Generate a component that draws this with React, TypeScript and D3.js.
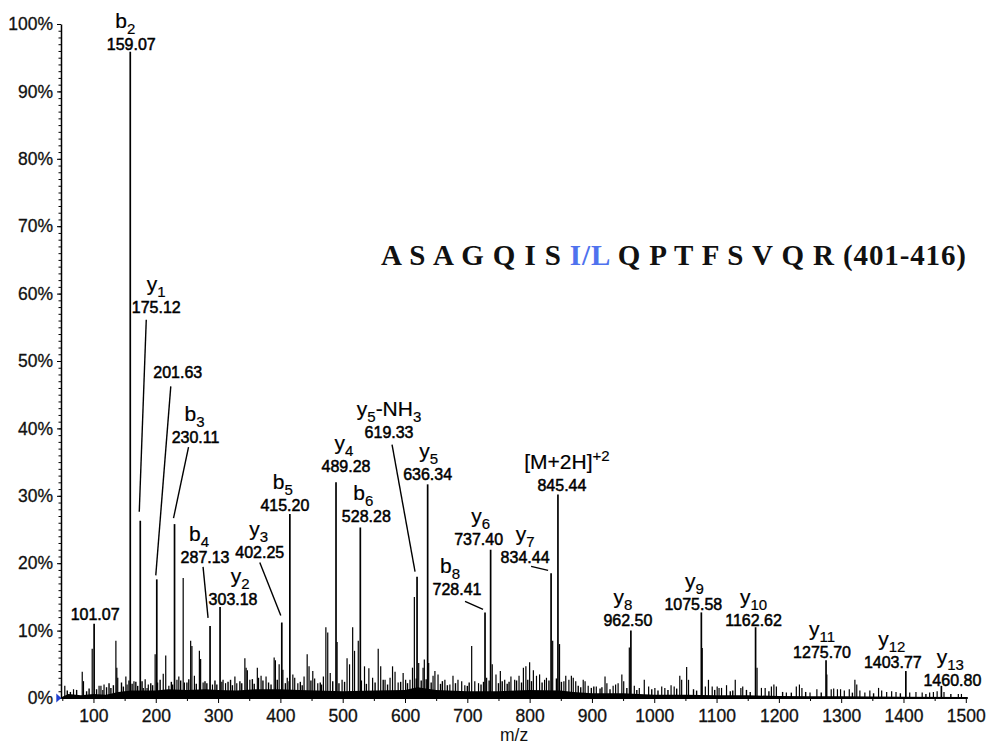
import React, { useEffect, useRef } from "react";
import * as d3 from "d3";

// annotated fragment ions
const ionMz = [101.07, 159.07, 175.12, 201.63, 230.11, 287.13, 303.18, 402.25, 415.2, 489.28, 528.28, 619.33, 636.34, 728.41, 737.4, 834.44, 845.44, 962.5, 1075.58, 1162.62, 1275.7, 1403.77, 1460.8];
const ionIntensity = [11, 95.9, 26.3, 17.6, 25.8, 10.7, 13.5, 11.2, 27.3, 32, 25.3, 18, 31.7, 12.7, 22, 18.5, 30.2, 10, 12.7, 10.5, 5.6, 4, 1.8];
const ionNames = ["", "b_2", "y_1", "", "b_3", "b_4", "y_2", "y_3", "b_5", "y_4", "b_6", "y_5-NH_3", "y_5", "b_8", "y_6", "y_7", "[M+2H]^+2", "y_8", "y_9", "y_10", "y_11", "y_12", "y_13"];
const ionValues = ["101.07", "159.07", "175.12", "201.63", "230.11", "287.13", "303.18", "402.25", "415.20", "489.28", "528.28", "619.33", "636.34", "728.41", "737.40", "834.44", "845.44", "962.50", "1075.58", "1162.62", "1275.70", "1403.77", "1460.80"];

// other peaks in the spectrum
const minorMz = [54, 68, 82, 84, 98, 109, 112, 115, 117, 136, 137.5, 139, 152, 154, 165, 180, 183, 186, 188, 199, 203, 212, 216, 221, 234, 237, 244, 246, 256, 258, 262, 270, 272, 276, 291, 306, 308, 312, 327, 330, 343, 345, 347, 351, 363, 365, 369, 377, 390, 392, 398, 404, 411, 420, 423, 428, 438, 443, 446, 452, 455, 460, 469, 473, 476, 480, 491, 499, 507, 511, 516, 519, 525, 535, 542, 548, 557, 561, 568, 576, 580, 584, 589, 597, 601, 608, 612, 615, 622, 629, 631, 638, 645, 648, 653, 664, 672, 677, 685, 691, 696, 707, 712, 718, 731, 740, 746, 753, 760, 770, 776, 783, 790, 794, 800, 806, 811, 816, 824, 827, 837, 848, 855, 858, 863, 867, 870, 874, 886, 889, 894, 907, 921, 924, 934, 938, 942, 948, 951, 960, 968, 976, 984, 991, 1001, 1012, 1017, 1027, 1032, 1041, 1044, 1052, 1055, 1077, 1082, 1087, 1093, 1101, 1104, 1108, 1116, 1130, 1139, 1142, 1165, 1172, 1178, 1188, 1192, 1196, 1212, 1228, 1233, 1237, 1250, 1261, 1277, 1284, 1288, 1294, 1299, 1305, 1313, 1322, 1325, 1330, 1338, 1346, 1360, 1365, 1373, 1381, 1388, 1410, 1420, 1430, 1442, 1448, 1454, 1465, 1488, 1493];
const minorIntensity = [1.8, 1.3, 3.9, 2.5, 7.3, 1.8, 1.8, 1.2, 2, 8.5, 4.5, 3, 3.2, 2, 2.5, 1.5, 2.8, 1.5, 2, 6.5, 2.3, 3.6, 6.3, 1.8, 2.7, 3.2, 17.8, 2.3, 8.5, 7.7, 3.3, 7, 5.8, 2.3, 2, 2.4, 2.7, 2.2, 3.2, 2.2, 5.9, 4.5, 4.1, 2.7, 4.5, 3, 3.3, 3.2, 6, 5.6, 5, 4.2, 3, 3.5, 3, 2.2, 3.2, 6.5, 4.7, 4, 2.9, 2.2, 3.2, 10.5, 9.7, 3.7, 8.3, 2.7, 5.9, 5, 10.5, 7, 8.5, 4.7, 4.4, 3, 7.3, 4.7, 2.7, 3, 4.7, 3.9, 2.3, 3.7, 2.7, 2.7, 4.5, 15, 5.2, 4.5, 5.7, 5.2, 3.3, 4, 3.5, 2.7, 2, 3.3, 2.7, 2.5, 1.9, 7.7, 2.5, 2.2, 3, 5, 3.5, 4, 2.7, 3.2, 2.7, 3.3, 4.5, 4.7, 5.3, 4.1, 3.3, 3.5, 2.7, 3, 8.5, 8, 2.5, 3.3, 2.7, 3.3, 3, 2.5, 2.7, 2.5, 1.8, 1.7, 3.2, 2.2, 1.8, 2, 2.2, 3.5, 2.5, 7.5, 1.8, 1.5, 2.7, 1.7, 1.5, 1.7, 1.5, 1.9, 1.7, 3.3, 2.7, 4.6, 2.7, 7.4, 1.7, 2.7, 1.7, 1.7, 1.5, 1.5, 1.9, 2.7, 1.5, 1.7, 4.5, 1.5, 1.5, 1.7, 2, 1.7, 0.8, 1.7, 2, 1.5, 0.8, 1.3, 3.5, 1.3, 1.4, 1.3, 1.3, 1.1, 1.3, 2.7, 2, 1.1, 0.8, 1.1, 1.5, 1.1, 0.9, 1, 0.9, 0.8, 0.9, 0.8, 0.8, 0.9, 1, 0.9, 0.6, 0.6];

// small grass peaks along the noisy baseline
const grassMz = [58, 63, 73, 89, 93, 105, 121, 125, 128, 132, 145, 148, 157, 162, 168, 171, 178, 192, 195, 207, 225, 227, 240, 250, 253, 265, 279, 282, 295, 298, 316, 320, 323, 335, 338, 355, 358, 372, 381, 385, 395, 408, 414, 432, 435, 449, 464, 466, 484, 494, 503, 530, 538, 552, 565, 572, 593, 604, 618, 626, 634, 642, 657, 660, 668, 681, 700, 703, 722, 726, 735, 750, 756, 764, 767, 779, 787, 797, 803, 820, 831, 843, 851, 878, 882, 899, 903, 913, 916, 929, 956, 972, 996, 1006, 1022, 1036, 1063, 1068, 1097, 1122, 1126, 1148, 1154, 1184, 1206, 1220, 1243, 1268, 1318, 1352, 1395, 1436, 1476];
const grassLevel = [1.1, 0.9, 1.2, 1, 1.4, 1.3, 1.6, 2.2, 1.5, 1.9, 2.3, 1.7, 2.6, 2.1, 2.4, 1.8, 2.5, 2.2, 1.9, 2.7, 2.4, 2.0, 2.6, 2.3, 2.8, 2.1, 2.5, 2.2, 2.6, 2.0, 2.4, 2.7, 1.9, 2.5, 2.2, 2.8, 2.1, 2.6, 2.3, 2.0, 2.7, 2.2, 2.5, 2.4, 1.9, 2.6, 2.3, 2.0, 2.5, 2.2, 2.4, 2.6, 2.1, 2.3, 2.7, 2.0, 2.4, 2.2, 2.9, 2.6, 2.8, 2.3, 2.1, 2.5, 1.9, 2.2, 1.8, 2.3, 2.0, 2.4, 2.6, 2.2, 2.5, 2.1, 2.4, 2.6, 2.3, 2.7, 2.5, 2.3, 2.6, 2.9, 2.4, 1.8, 1.6, 1.5, 1.7, 1.4, 1.6, 1.3, 1.5, 1.2, 1.3, 1.1, 1.2, 1.4, 1.3, 1.1, 1.2, 1.0, 1.1, 1.2, 0.9, 1.0, 0.9, 0.8, 0.9, 0.8, 0.8, 0.7, 0.7, 0.6, 0.6];

// dense baseline noise level
const floorMz = [50, 60, 80, 100, 120, 140, 160, 180, 200, 220, 250, 280, 300, 330, 360, 400, 430, 460, 500, 550, 600, 620, 650, 700, 750, 800, 850, 870, 900, 950, 1000, 1050, 1100, 1150, 1200, 1250, 1300, 1400, 1500];
const floorLevel = [0.2, 0.6, 0.4, 0.6, 0.5, 0.9, 1.1, 1.1, 1.1, 1.3, 1.2, 1.3, 1.2, 1.1, 1.3, 1.3, 1.2, 1.1, 1.0, 1.1, 1.2, 1.6, 1.2, 1.0, 1.0, 1.2, 1.1, 0.9, 0.7, 0.7, 0.5, 0.5, 0.4, 0.4, 0.3, 0.25, 0.25, 0.2, 0.15];

const xTicks = [100, 200, 300, 400, 500, 600, 700, 800, 900, 1000, 1100, 1200, 1300, 1400, 1500];
const yTicks = [0, 10, 20, 30, 40, 50, 60, 70, 80, 90, 100];

// label placement: dx/dy of value label from peak top, ion label shift, optional leader
const layout = [
  { dx: 1, dy: -4, ix: 0 },
  { dx: 1, dy: -2, ix: -6 },
  { dx: 16, dy: -208, ix: 0, lead: [-10, 7, -1, -9] },
  { dx: 21, dy: -201, ix: 0, lead: [-7, 8, -1, -4] },
  { dx: 21, dy: -81, ix: -1, lead: [-7, 4, -1, -6] },
  { dx: -5, dy: -63, ix: -6, lead: [-2, 4, -2, -8] },
  { dx: 13, dy: -2, ix: 7 },
  { dx: -22, dy: -65, ix: -1, lead: [0, 5, -1, -7] },
  { dx: -5, dy: -3, ix: -2 },
  { dx: 10, dy: -10, ix: -2 },
  { dx: 6, dy: -5, ix: -3 },
  { dx: -28, dy: -139, ix: 0, lead: [3, 7, -2, -5] },
  { dx: 0, dy: -4, ix: 1 },
  { dx: -28, dy: -17, ix: -7, lead: [8, 6, -2, -3] },
  { dx: -12, dy: -5, ix: 2 },
  { dx: -26, dy: -10, ix: 0, lead: [6, 3, -3, -3] },
  { dx: 4, dy: -3, ix: 5 },
  { dx: -3, dy: -5, ix: -5 },
  { dx: -8, dy: -2, ix: 1 },
  { dx: -2, dy: -1, ix: 0 },
  { dx: -4, dy: -2, ix: 0 },
  { dx: -13, dy: -3, ix: -1 },
  { dx: 11, dy: 0, ix: -2 },
];

const width = 987;
const height = 745;
const sans = "Liberation Sans, Arial, sans-serif";

const x = d3.scaleLinear().domain([50, 1500]).range([62.3, 965.8]);
const y = d3.scaleLinear().domain([0, 100]).range([698, 24]);

// "b_2" -> b with subscript 2, "[M+2H]^+2" -> superscript
function ionText(s: string) {
  const parts = s.split(/([_^][+\d]+)/).filter((p) => p !== "");
  const out: React.ReactNode[] = [];
  let shift = 0;
  parts.forEach((p, i) => {
    if (p[0] === "_" || p[0] === "^") {
      const d = p[0] === "_" ? 6 : -8;
      out.push(
        <tspan key={i} dy={d - shift} fontSize={15}>
          {p.slice(1)}
        </tspan>
      );
      shift = d;
    } else {
      out.push(
        <tspan key={i} dy={-shift}>
          {p}
        </tspan>
      );
      shift = 0;
    }
  });
  return out;
}

const App = () => {
  const xAxisRef = useRef<SVGGElement>(null);
  const yAxisRef = useRef<SVGGElement>(null);

  useEffect(() => {
    document.body.style.margin = "0";
    const gx = d3.select(xAxisRef.current);
    gx.selectAll("*").remove();
    gx.append("g")
      .call(d3.axisBottom(x).tickValues(xTicks.map((t) => t - 50)).tickSize(3).tickSizeOuter(0).tickFormat(() => ""))
      .call((g) => g.select(".domain").remove());
    gx.append("g")
      .call(d3.axisBottom(x).tickValues(xTicks).tickSize(5).tickSizeOuter(0).tickPadding(7).tickFormat(d3.format("d")))
      .call((g) => g.select(".domain").attr("stroke-width", 2).attr("d", `M${x.range()[0] - 1},0H${x.range()[1] + 2}`))
      .call((g) =>
        g.selectAll("text").attr("font-size", 17.5).attr("font-family", sans).attr("fill", "#111").attr("stroke", "#111").attr("stroke-width", 0.3)
      );

    const gy = d3.select(yAxisRef.current);
    gy.selectAll("*").remove();
    gy.append("g")
      .call(d3.axisLeft(y).ticks(100).tickSize(2.5).tickSizeOuter(0).tickFormat(() => ""))
      .call((g) => g.select(".domain").attr("stroke-width", 1.5));
    gy.append("g")
      .call(d3.axisLeft(y).tickValues(yTicks).tickSize(4).tickSizeOuter(0).tickPadding(4).tickFormat((d) => `${d}%`))
      .call((g) => g.select(".domain").remove())
      .call((g) =>
        g.selectAll("text").attr("font-size", 17.5).attr("font-family", sans).attr("fill", "#111").attr("stroke", "#111").attr("stroke-width", 0.3)
      );
  }, []);

  const floorArea = d3
    .area<number>()
    .x((_, i) => x(floorMz[i]))
    .y0(y(0))
    .y1((d) => y(d))(floorLevel);

  const x0 = x.range()[0];

  return (
    <svg width={width} height={height} style={{ position: "absolute", left: 0, top: 0, background: "#fff" }}>
      <path d={floorArea ?? ""} fill="#000" />
      {grassMz.map((m, i) => (
        <line key={"g" + i} x1={x(m)} x2={x(m)} y1={y(0)} y2={y(grassLevel[i])} stroke="#000" strokeWidth={1.4} />
      ))}
      {minorMz.map((m, i) => (
        <line key={"m" + i} x1={x(m)} x2={x(m)} y1={y(0)} y2={y(minorIntensity[i])} stroke="#000" strokeWidth={1.2} />
      ))}
      {ionMz.map((m, i) => (
        <line key={"p" + i} x1={x(m)} x2={x(m)} y1={y(0)} y2={y(ionIntensity[i])} stroke="#000" strokeWidth={1.7} />
      ))}

      <g ref={xAxisRef} transform={`translate(0,${y(0)})`} />
      <g ref={yAxisRef} transform={`translate(${x0 - 1.3},0)`} />
      <path d={`M${x0 - 6},${y(0) - 4.5}L${x0 - 1},${y(0)}L${x0 - 6},${y(0) + 4.5}Z`} fill="#1f3fd0" />

      {ionMz.map((m, i) => {
        const L = layout[i];
        const px = x(m);
        const py = y(ionIntensity[i]);
        const cx = px + L.dx;
        const by = py + L.dy;
        return (
          <g key={"l" + i} fontFamily={sans} fill="#000" textAnchor="middle">
            <text x={cx} y={by} fontSize={16} stroke="#000" strokeWidth={0.5}>
              {ionValues[i]}
            </text>
            {ionNames[i] && (
              <text x={cx + L.ix} y={by - 22} fontSize={21} stroke="#000" strokeWidth={0.2}>
                {ionText(ionNames[i])}
              </text>
            )}
            {L.lead && (
              <line
                x1={cx + L.lead[0]}
                y1={by + L.lead[1]}
                x2={px + L.lead[2]}
                y2={py + L.lead[3]}
                stroke="#000"
                strokeWidth={1.4}
              />
            )}
          </g>
        );
      })}

      <text
        x={381}
        y={265}
        fontFamily="Liberation Serif, Times New Roman, serif"
        fontWeight="bold"
        fontSize={29}
        textLength={585}
        lengthAdjust="spacing"
        fill="#111"
      >
        <tspan>{"A S A G Q I S "}</tspan>
        <tspan fill="#4f72ee">{"I/L"}</tspan>
        <tspan>{" Q P T F S V Q R (401-416)"}</tspan>
      </text>

      <text x={(x.range()[0] + x.range()[1]) / 2} y={741} textAnchor="middle" fontSize={17.5} fontFamily={sans} fill="#111">
        m/z
      </text>
    </svg>
  );
};

export default App;
